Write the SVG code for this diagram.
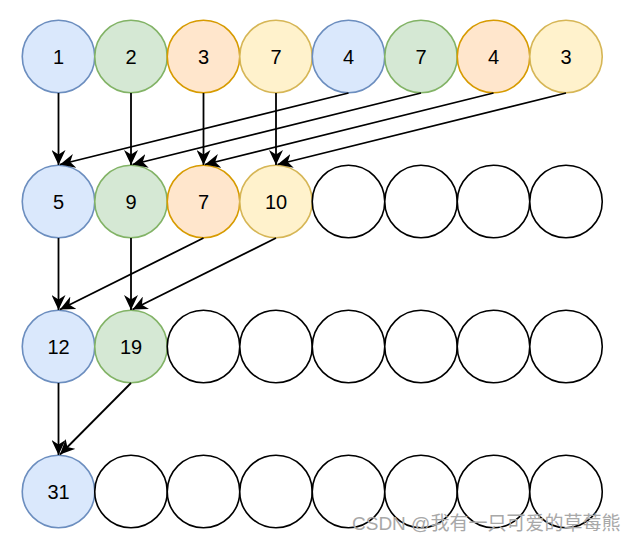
<svg xmlns="http://www.w3.org/2000/svg" width="638" height="543" viewBox="0 0 638 543">
<defs>
<marker id="arr" viewBox="0 0 15 14" refX="15" refY="7" markerWidth="15" markerHeight="14" markerUnits="userSpaceOnUse" orient="auto">
<path d="M0,0 L15,7 L0,14 L4.5,7 Z" fill="#000"/>
</marker>
<style>
circle{stroke-width:1.6}
.b{fill:#dae8fc;stroke:#6c8ebf}
.g{fill:#d5e8d4;stroke:#82b366}
.o{fill:#ffe6cc;stroke:#d79b00}
.y{fill:#fff2cc;stroke:#d6b656}
.e{fill:#ffffff;stroke:#000000}
text{font-family:"Liberation Sans",Arial,sans-serif;font-size:20px;fill:#000;text-anchor:middle;dominant-baseline:central}
.wm{font-family:"Liberation Sans","Noto Sans CJK SC",sans-serif;font-size:19px;fill:#a8a8a8;text-anchor:start;dominant-baseline:auto}
.c line{stroke:#000;stroke-width:1.8;marker-end:url(#arr)}
</style>
</defs>
<rect width="638" height="543" fill="#fff"/>
<g id="row1">
<g id="n1_1"><circle class="b" cx="58.5" cy="56.5" r="36.25"/><text x="58.5" y="57">1</text></g>
<g id="n1_2"><circle class="g" cx="131" cy="56.5" r="36.25"/><text x="131" y="57">2</text></g>
<g id="n1_3"><circle class="o" cx="203.5" cy="56.5" r="36.25"/><text x="203.5" y="57">3</text></g>
<g id="n1_4"><circle class="y" cx="276" cy="56.5" r="36.25"/><text x="276" y="57">7</text></g>
<g id="n1_5"><circle class="b" cx="348.5" cy="56.5" r="36.25"/><text x="348.5" y="57">4</text></g>
<g id="n1_6"><circle class="g" cx="421" cy="56.5" r="36.25"/><text x="421" y="57">7</text></g>
<g id="n1_7"><circle class="o" cx="493.5" cy="56.5" r="36.25"/><text x="493.5" y="57">4</text></g>
<g id="n1_8"><circle class="y" cx="566" cy="56.5" r="36.25"/><text x="566" y="57">3</text></g>
</g>
<g id="row2">
<g id="n2_1"><circle class="b" cx="58.5" cy="201.5" r="36.25"/><text x="58.5" y="202">5</text></g>
<g id="n2_2"><circle class="g" cx="131" cy="201.5" r="36.25"/><text x="131" y="202">9</text></g>
<g id="n2_3"><circle class="o" cx="203.5" cy="201.5" r="36.25"/><text x="203.5" y="202">7</text></g>
<g id="n2_4"><circle class="y" cx="276" cy="201.5" r="36.25"/><text x="276" y="202">10</text></g>
<g id="n2_5"><circle class="e" cx="348.5" cy="201.5" r="36.25"/></g>
<g id="n2_6"><circle class="e" cx="421" cy="201.5" r="36.25"/></g>
<g id="n2_7"><circle class="e" cx="493.5" cy="201.5" r="36.25"/></g>
<g id="n2_8"><circle class="e" cx="566" cy="201.5" r="36.25"/></g>
</g>
<g id="row3">
<g id="n3_1"><circle class="b" cx="58.5" cy="346.5" r="36.25"/><text x="58.5" y="347">12</text></g>
<g id="n3_2"><circle class="g" cx="131" cy="346.5" r="36.25"/><text x="131" y="347">19</text></g>
<g id="n3_3"><circle class="e" cx="203.5" cy="346.5" r="36.25"/></g>
<g id="n3_4"><circle class="e" cx="276" cy="346.5" r="36.25"/></g>
<g id="n3_5"><circle class="e" cx="348.5" cy="346.5" r="36.25"/></g>
<g id="n3_6"><circle class="e" cx="421" cy="346.5" r="36.25"/></g>
<g id="n3_7"><circle class="e" cx="493.5" cy="346.5" r="36.25"/></g>
<g id="n3_8"><circle class="e" cx="566" cy="346.5" r="36.25"/></g>
</g>
<g id="row4">
<g id="n4_1"><circle class="b" cx="58.5" cy="491.5" r="36.25"/><text x="58.5" y="492">31</text></g>
<g id="n4_2"><circle class="e" cx="131" cy="491.5" r="36.25"/></g>
<g id="n4_3"><circle class="e" cx="203.5" cy="491.5" r="36.25"/></g>
<g id="n4_4"><circle class="e" cx="276" cy="491.5" r="36.25"/></g>
<g id="n4_5"><circle class="e" cx="348.5" cy="491.5" r="36.25"/></g>
<g id="n4_6"><circle class="e" cx="421" cy="491.5" r="36.25"/></g>
<g id="n4_7"><circle class="e" cx="493.5" cy="491.5" r="36.25"/></g>
<g id="n4_8"><circle class="e" cx="566" cy="491.5" r="36.25"/></g>
</g>
<g id="connectors" class="c">
<line x1="58.5" y1="93" x2="58.5" y2="165"/>
<line x1="131" y1="93" x2="131" y2="165"/>
<line x1="203.5" y1="93" x2="203.5" y2="165"/>
<line x1="276" y1="93" x2="276" y2="165"/>
<line x1="348.5" y1="93" x2="60" y2="164.5"/>
<line x1="421" y1="93" x2="132.5" y2="164.5"/>
<line x1="493.5" y1="93" x2="205" y2="164.5"/>
<line x1="566" y1="93" x2="277.5" y2="164.5"/>
<line x1="58.5" y1="238" x2="58.5" y2="310"/>
<line x1="131" y1="238" x2="131" y2="310"/>
<line x1="203.5" y1="238" x2="60" y2="309.5"/>
<line x1="276" y1="238" x2="132.5" y2="309.5"/>
<line x1="58.5" y1="383" x2="58.5" y2="455"/>
<line x1="131" y1="383" x2="60" y2="454.5"/>
</g>
<text class="wm" x="352" y="530">CSDN @我有一只可爱的草莓熊</text>
</svg>
